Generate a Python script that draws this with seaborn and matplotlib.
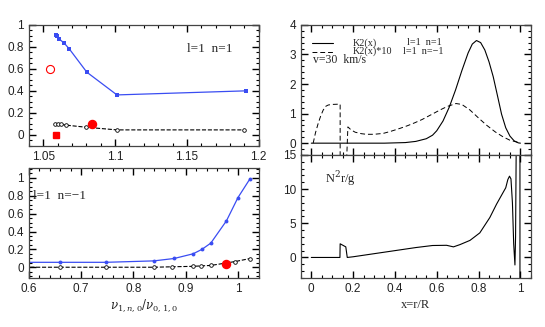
import numpy as np
import matplotlib
matplotlib.use("Agg")
import matplotlib.pyplot as plt
import seaborn as sns
from matplotlib.ticker import MultipleLocator, FuncFormatter

# top left: l=1 n=1
tl_blue_x = [1.0587, 1.0598, 1.0612, 1.0645, 1.0682, 1.0803, 1.1013, 1.191]
tl_blue_y = [0.905, 0.895, 0.87, 0.835, 0.78, 0.57, 0.363, 0.40]
tl_black_x = [1.0582, 1.0600, 1.0625, 1.0660, 1.0800, 1.1013, 1.190]
tl_black_y = [0.100, 0.098, 0.095, 0.088, 0.069, 0.045, 0.045]
tl_red_open = ([1.0547], [0.60])
tl_red_square = ([1.0589], [0.0])
tl_red_dot = ([1.0836], [0.10])

# bottom left: l=1 n=-1
bl_blue_x = [0.58, 0.659, 0.747, 0.839, 0.878, 0.914, 0.931, 0.948, 0.978, 1.0, 1.023]
bl_blue_y = [0.055, 0.055, 0.055, 0.071, 0.098, 0.15, 0.20, 0.27, 0.52, 0.78, 0.99]
bl_black_x = [0.58, 0.659, 0.747, 0.839, 0.874, 0.914, 0.930, 0.948, 0.994, 1.023]
bl_black_y = [0.0, 0.0, 0.0, 0.0, 0.005, 0.01, 0.015, 0.02, 0.063, 0.097]
bl_red_dot = ([0.978], [0.04])

# top right: K2(x)
k2_x = [0.0, 0.35, 0.45, 0.50, 0.55, 0.58, 0.60, 0.63, 0.66, 0.69, 0.72, 0.75, 0.77,
        0.79, 0.81, 0.83, 0.85, 0.87, 0.89, 0.91, 0.93, 0.95, 0.97, 0.99, 1.0]
k2_y = [0.0, 0.0, 0.02, 0.06, 0.15, 0.27, 0.42, 0.75, 1.22, 1.80, 2.45, 3.05, 3.35,
        3.47, 3.40, 3.15, 2.75, 2.25, 1.62, 0.98, 0.52, 0.24, 0.08, 0.01, 0.0]
k2n_x = [0.009, 0.02, 0.033, 0.045, 0.057, 0.07, 0.081, 0.10, 0.138, 0.138, 0.164,
         0.175, 0.19, 0.21, 0.24, 0.264, 0.30, 0.344, 0.38, 0.424, 0.46, 0.495, 0.53,
         0.57, 0.615, 0.65, 0.692, 0.72, 0.759, 0.80, 0.838, 0.88, 0.918, 0.95, 0.982, 1.0]
k2n_y = [0.0, 0.35, 0.67, 0.92, 1.12, 1.25, 1.29, 1.31, 1.32, -1.5, -1.5,
         0.55, 0.45, 0.37, 0.32, 0.30, 0.30, 0.33, 0.40, 0.50, 0.59, 0.69, 0.80,
         0.95, 1.12, 1.24, 1.34, 1.31, 1.12, 0.85, 0.61, 0.38, 0.21, 0.10, 0.04, 0.0]

# bottom right: N^2 r / g
n2_x = [0.0, 0.137, 0.138, 0.165, 0.172, 0.2, 0.3, 0.4, 0.5, 0.58, 0.647, 0.68, 0.711,
        0.759, 0.806, 0.854, 0.886, 0.918, 0.93, 0.94, 0.948, 0.955, 0.962, 0.968,
        0.974, 0.977, 0.98, 0.998, 0.998]
n2_y = [0.0, 0.0, 2.0, 1.55, 0.0, 0.1, 0.55, 1.0, 1.45, 1.75, 1.78, 1.55, 1.88,
        2.5, 3.6, 5.85, 7.8, 9.55, 10.2, 11.4, 11.9, 11.5, 8.0, 2.0,
        -1.1, 3.0, 16.0, 16.0, -4.0]

sns.set_style("ticks")
plt.rcParams['font.family'] = ['Liberation Sans', 'DejaVu Sans']
plt.rcParams['mathtext.fontset'] = 'dejavuserif'

blue = '#3a4df2'
serif = ['Liberation Serif', 'DejaVu Serif']

fig = plt.figure(figsize=(5.45, 3.27), dpi=100)
ax_tl = fig.add_axes([0.053, 0.554, 0.422, 0.370])
ax_bl = fig.add_axes([0.053, 0.150, 0.422, 0.336])
ax_tr = fig.add_axes([0.552, 0.526, 0.422, 0.398])
ax_br = fig.add_axes([0.552, 0.150, 0.422, 0.376], sharex=ax_tr)

fmt = FuncFormatter(lambda v, p: '%g' % round(v, 6))


def style(ax, xmaj, xmin, ymaj, ymin):
    ax.xaxis.set_major_locator(MultipleLocator(xmaj))
    ax.xaxis.set_minor_locator(MultipleLocator(xmin))
    ax.yaxis.set_major_locator(MultipleLocator(ymaj))
    ax.yaxis.set_minor_locator(MultipleLocator(ymin))
    ax.xaxis.set_major_formatter(fmt)
    ax.yaxis.set_major_formatter(fmt)
    for s in ax.spines.values():
        s.set_linewidth(0.9)
        s.set_color('#444444')
    ax.set_xlabel('')
    ax.set_ylabel('')


def ticks(ax):
    ax.tick_params(axis='both', which='major', direction='in', length=5, width=1.0,
                   color='black', top=True, right=True, bottom=True, left=True,
                   labelsize=8.5, labelcolor='#222222')
    ax.tick_params(axis='both', which='minor', direction='in', length=2.5, width=0.8,
                   color='black', top=True, right=True, bottom=True, left=True)


# top left
sns.lineplot(x=tl_blue_x, y=tl_blue_y, ax=ax_tl, color=blue, lw=0.9, marker='s',
             markersize=2.8, markeredgewidth=0, markeredgecolor=blue,
             estimator=None, sort=False)
sns.lineplot(x=tl_black_x, y=tl_black_y, ax=ax_tl, color='black', lw=0.8, linestyle='--',
             marker='o', markersize=2.6, markerfacecolor='white', markeredgecolor='black',
             markeredgewidth=0.6, estimator=None, sort=False)
ax_tl.plot(*tl_red_open, 'o', ms=5.8, mfc='none', mec='red', mew=0.8)
ax_tl.plot(*tl_red_square, 's', ms=4, color='red')
ax_tl.plot(*tl_red_dot, 'o', ms=5.8, color='red')
ax_tl.set_xlim(1.04, 1.2001)
ax_tl.set_ylim(-0.1, 1.0)
style(ax_tl, 0.05, 0.01, 0.2, 0.05)
ax_tl.text(0.687, 0.80, 'l=1  n=1', transform=ax_tl.transAxes, family=serif,
           fontsize=9.5, va='center', ha='left')

# bottom left
sns.lineplot(x=bl_blue_x, y=bl_blue_y, ax=ax_bl, color=blue, lw=0.9, marker='o',
             markersize=2.8, markeredgewidth=0, markeredgecolor=blue,
             estimator=None, sort=False)
sns.lineplot(x=bl_black_x, y=bl_black_y, ax=ax_bl, color='black', lw=0.8, linestyle='--',
             marker='o', markersize=2.6, markerfacecolor='white', markeredgecolor='black',
             markeredgewidth=0.6, estimator=None, sort=False)
ax_bl.plot(*bl_red_dot, 'o', ms=5.8, color='red')
ax_bl.set_xlim(0.5999, 1.04)
ax_bl.set_ylim(-0.12, 1.11)
style(ax_bl, 0.1, 0.02, 0.2, 0.05)
ax_bl.text(0.017, 0.745, 'l=1  n=\u22121', transform=ax_bl.transAxes, family=serif,
           fontsize=9.5, va='center', ha='left')
ax_bl.set_xlabel(r'$\nu_{1,n,0}/\nu_{0,1,0}$', fontsize=8.5, labelpad=2)

# top right
sns.lineplot(x=k2_x, y=k2_y, ax=ax_tr, color='black', lw=0.8, estimator=None, sort=False)
sns.lineplot(x=k2n_x, y=k2n_y, ax=ax_tr, color='black', lw=0.7, linestyle=(0, (5, 3)),
             estimator=None, sort=False)
ax_tr.set_xlim(-0.05, 1.05)
ax_tr.set_ylim(-0.4, 4.0)
style(ax_tr, 0.2, 0.05, 1, 0.2)
ax_tr.plot([0.048, 0.139], [0.857, 0.857], color='black', lw=0.8, transform=ax_tr.transAxes)
ax_tr.plot([0.048, 0.139], [0.792, 0.792], color='black', lw=0.7, linestyle=(0, (5, 3)),
           transform=ax_tr.transAxes)
for tx, ty, s in [(0.226, 0.862, 'K2(x)'), (0.461, 0.862, 'l=1  n=1'),
                  (0.226, 0.797, 'K2(x)*10'), (0.443, 0.797, 'l=1  n=\u22121')]:
    ax_tr.text(tx, ty, s, transform=ax_tr.transAxes, family=serif, fontsize=7.3,
               va='center', ha='left')
ax_tr.text(0.052, 0.728, 'v=30  km/s', transform=ax_tr.transAxes, family=serif,
           fontsize=8.5, va='center', ha='left')

# bottom right
sns.lineplot(x=n2_x, y=n2_y, ax=ax_br, color='black', lw=0.8, estimator=None, sort=False)
ax_br.set_ylim(-3, 15)
style(ax_br, 0.2, 0.05, 5, 1)
ax_br.text(0.104, 0.81, r'N$^{2}$r/g', transform=ax_br.transAxes, family=serif,
           fontsize=9, va='center', ha='left')
ax_br.set_xlabel('x=r/R', family=serif, fontsize=9, labelpad=3)

for ax in (ax_tl, ax_bl, ax_tr, ax_br):
    ticks(ax)
ax_tr.tick_params(labelbottom=False)

fig.savefig('out.png', dpi=100)
